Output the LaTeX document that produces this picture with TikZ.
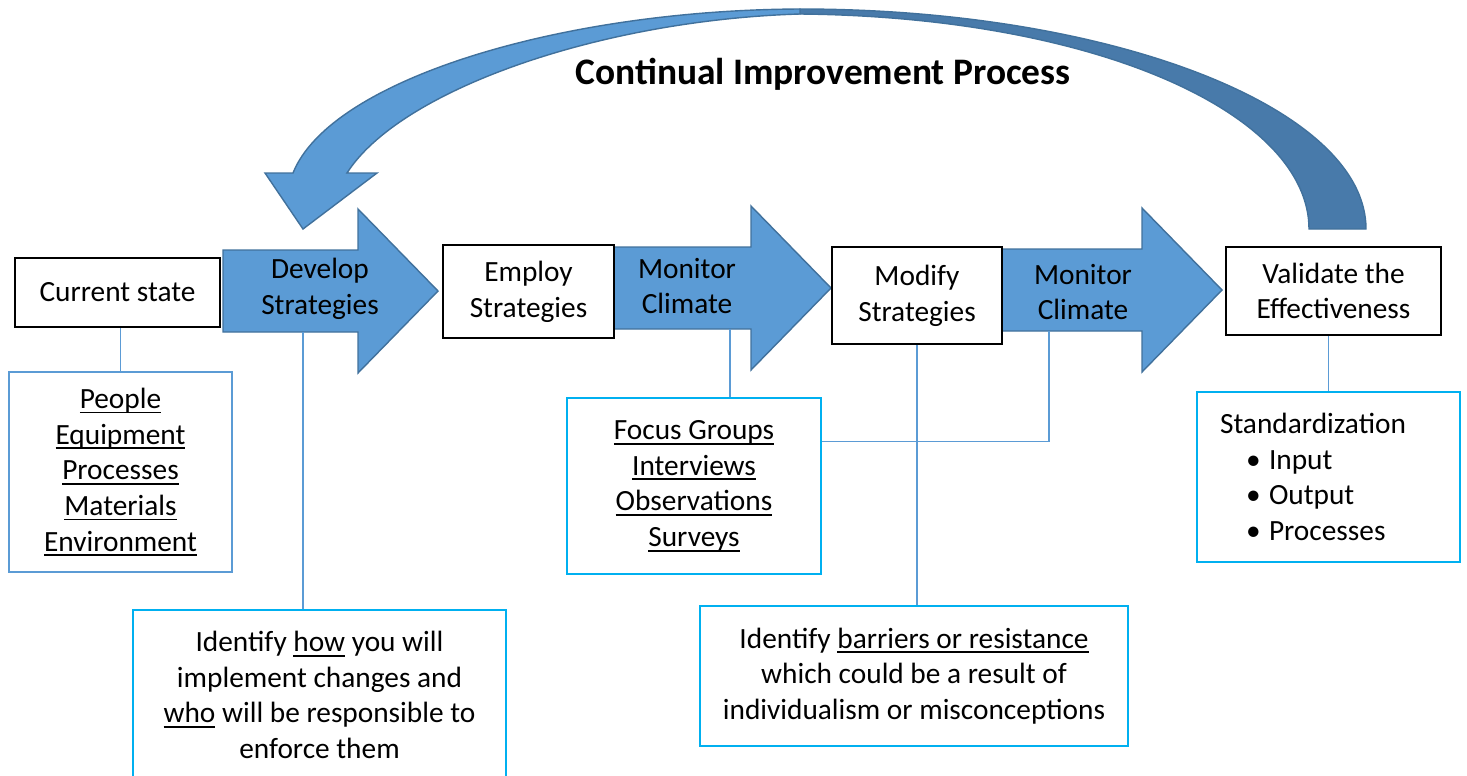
\documentclass[tikz,border=0pt]{standalone}
\usepackage{fontspec}
\setmainfont{Carlito}
\usetikzlibrary{positioning,calc}

\definecolor{arrowblue}{RGB}{91,155,213}
\definecolor{arrowedge}{RGB}{65,113,156}
\definecolor{loopblue}{RGB}{72,122,170}
\definecolor{notecyan}{RGB}{0,176,240}

% underline at a fixed depth, whatever the letters
\newcommand{\uword}[1]{\setbox0\hbox{#1}\rlap{\rule[-0.17em]{\wd0}{0.06em}}\box0\relax}

\tikzset{
  stagebox/.style={draw=black,line width=1.1pt,fill=white,align=center,inner sep=0pt},
  notebox/.style={draw=notecyan,line width=1.1pt,fill=white,align=center,inner sep=0pt},
  blockarrow/.style={fill=arrowblue,draw=arrowedge,line width=0.8pt,line join=miter},
  link/.style={draw=arrowblue,line width=0.8pt},
}

\begin{document}
\begin{tikzpicture}[x=0.02cm,y=-0.02cm,font=\fontsize{16.7}{20.3}\selectfont]
\useasboundingbox (0,0) rectangle (1467,775);
\clip (0,0) rectangle (1467,775);

% loop arrow going back over the top, dark back half first
\draw[fill=loopblue,draw=arrowedge,line width=0.8pt]
  (800,9) .. controls (1112,9) and (1366,108) .. (1366,229)
  -- (1309,229) .. controls (1309,115) and (1100,17) .. (800,14) -- cycle;
\draw[blockarrow]
  (800,9) .. controls (560,10) and (330,80) .. (293,173)
  -- (265,173) -- (303,229) -- (377,173) -- (347,173)
  .. controls (400,90) and (600,20) .. (800,14) -- cycle;
\node[font=\fontsize{21.3}{25}\selectfont\bfseries] (title) at (823,74) {Continual Improvement Process};

% block arrows between the stages
\foreach \nm/\xa/\xb/\yc/\tx/\ty/\lab in {
    develop/223/358/291/320/289/{Develop\\Strategies},
    monitora/614/751/288/687/286/{Monitor\\Climate},
    monitorb/1002/1142/290/1083/292/{Monitor\\Climate}} {
  \draw[blockarrow] (\xa,\yc-41) -- (\xb,\yc-41) -- (\xb,\yc-82) -- (\xb+80,\yc)
    -- (\xb,\yc+82) -- (\xb,\yc+41) -- (\xa,\yc+41) -- cycle;
  \node[align=center,inner sep=0pt] (\nm) at (\tx,\ty) {\lab};
}

% stages
\node[stagebox,minimum width=4.1cm,minimum height=1.38cm] (current) at (117.5,292.5) {Current state};
\node[stagebox,minimum width=3.42cm,minimum height=1.86cm] (employ) at (528.5,291.5) {Employ\\Strategies};
\node[stagebox,minimum width=3.4cm,minimum height=1.94cm] (modify) at (917,295.5) {Modify\\Strategies};
\node[stagebox,minimum width=4.3cm,minimum height=1.76cm] (validate) at (1333.5,291) {Validate the\\Effectiveness};

% notes under the stages
\node[notebox,draw=arrowblue,line width=0.8pt,minimum width=4.46cm,minimum height=4cm] (people) at (120.5,472)
  {\uword{People}\\\uword{Equipment}\\\uword{Processes}\\\uword{Materials}\\\uword{Environment}};
\node[notebox,minimum width=5.08cm,minimum height=3.52cm] (focus) at (694,486)
  {\uword{Focus Groups}\\\uword{Interviews}\\\uword{Observations}\\\uword{Surveys}};
\node[notebox,anchor=north,minimum width=7.46cm,minimum height=3.4cm] (how) at (319.5,609)
  {Identify \uword{how} you will\\implement changes and\\\uword{who} will be responsible to\\enforce them};
\node[notebox,minimum width=8.56cm,minimum height=2.8cm] (barriers) at (914,676)
  {Identify \uword{barriers or resistance}\\which could be a result of\\individualism or misconceptions};
\node[notebox,align=left,text width=4.34cm,minimum width=5.26cm,minimum height=3.4cm] (std) at (1328.5,477)
  {Standardization\\
   \makebox[0.98cm][l]{\hspace*{0.52cm}\textbullet}Input\\
   \makebox[0.98cm][l]{\hspace*{0.52cm}\textbullet}Output\\
   \makebox[0.98cm][l]{\hspace*{0.52cm}\textbullet}Processes};

% connectors
\coordinate (devfoot) at (303,332);
\coordinate (monafoot) at (730,329);
\coordinate (monbfoot) at (1049,331);
\draw[link] (people.north) -- (people.north |- current.south);
\draw[link] (devfoot) -- (devfoot |- how.north);
\draw[link] (monafoot) -- (monafoot |- focus.north);
\draw[link] (modify.south) -- (modify.south |- barriers.north);
\draw[link] (monbfoot) |- ($(focus.north east)!0.25!(focus.south east)$);
\draw[link] (std.north) -- (std.north |- validate.south);
\end{tikzpicture}
\end{document}
